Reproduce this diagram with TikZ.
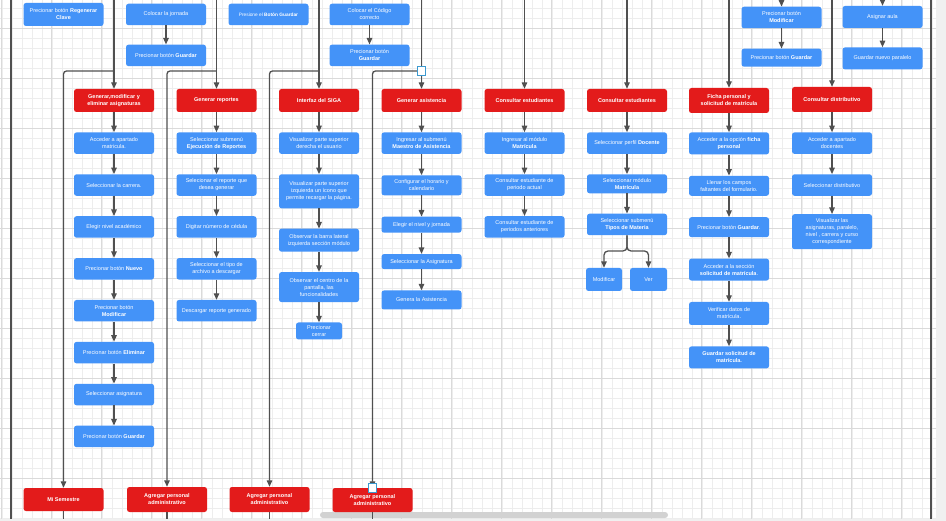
\documentclass[tikz,border=0pt]{standalone}
\usepackage{fontspec}
\setmainfont{Liberation Sans}
\usepackage{tikz}
\usetikzlibrary{arrows.meta, positioning}
\definecolor{actblue}{HTML}{4493F8}
\definecolor{casered}{HTML}{E31B1B}
\definecolor{linegray}{HTML}{505050}
\definecolor{gridminor}{HTML}{EDEDED}
\definecolor{gridmajor}{HTML}{DADADA}
\definecolor{handleblue}{HTML}{3C9AD0}
\tikzset{
  act/.style={rectangle, rounded corners=2.5pt, fill=actblue, text=white,
              minimum width=80pt, minimum height=21.5pt, inner xsep=2pt, inner ysep=1pt,
              align=center, font=\fontsize{5.5}{7}\selectfont},
  usecase/.style={rectangle, rounded corners=2.5pt, fill=casered, text=white,
              minimum width=80pt, minimum height=23pt, inner sep=1pt,
              align=center, font=\fontsize{5.5}{7}\selectfont\bfseries},
  arrow/.style={-{Triangle[length=6.5pt,width=5.5pt]}, line width=1.3pt, draw=linegray},
  link/.style={line width=1.3pt, draw=linegray},
  border/.style={line width=2pt, draw=linegray},
  handle/.style={rectangle, draw=handleblue, fill=white, line width=0.8pt,
                 minimum size=8.5pt, inner sep=0pt},
}

\begin{document}
\begin{tikzpicture}[x=1pt, y=-1pt, node distance=20pt]
  \useasboundingbox (0,0) rectangle (946,521);
  \fill[white] (0,0) rectangle (946,521);
  \foreach \i in {0,...,93} \draw[gridminor, line width=0.4pt] (\i*10+1.7,0) -- (\i*10+1.7,519);
  \foreach \i in {0,...,51} \draw[gridminor, line width=0.4pt] (0,\i*10+8.3) -- (936,\i*10+8.3);
  \foreach \i in {0,...,18} \draw[gridmajor, line width=0.5pt] (\i*50+1.7,0) -- (\i*50+1.7,519);
  \foreach \i in {0,...,9} \draw[gridmajor, line width=0.5pt] (0,\i*50+28.3) -- (936,\i*50+28.3);
  \fill[gray!12] (936,0) rectangle (946,521);
  \fill[gray!12] (0,519) rectangle (946,521);
  \draw[border] (11,0) -- (11,519);
  \draw[border] (931,0) -- (931,519);
  \fill[gray!35, rounded corners=3pt] (320,512) rectangle (668,518);

  \node[act, minimum height=23pt] (regen) at (63.5,14.5) {Precionar botón \textbf{Regenerar}\\\textbf{Clave}};
  \node[act] (jornada) at (166,14.5) {Colocar la jornada};
  \node[act, below=19pt of jornada] (guardarj) {Precionar  botón \textbf{Guardar}};
  \node[act, font=\fontsize{4.8}{6}\selectfont] (presione) at (268.5,14.5) {Presione el \textbf{Botón Guardar}};
  \node[act] (codigo) at (369.5,14.5) {Colocar  el Código\\correcto};
  \node[act, below=19pt of codigo] (guardarc) {Precionar botón\\\textbf{Guardar}};
  \node[act] (modif) at (781.5,17.5) {Precionar botón\\\textbf{Modificar}};
  \node[act, minimum height=18pt, below=20pt of modif] (guardarm) {Precionar botón \textbf{Guardar}};
  \node[act, minimum height=22pt] (aula) at (882.5,17) {Asignar aula};
  \node[act, minimum height=22pt, below=19pt of aula] (paralelo) {Guardar nuevo paralelo};

  \node[usecase] (asig) at (114,100.5) {Generar,modificar y\\eliminar asignaturas};
  \node[usecase] (repo) at (216.5,100.5) {Generar reportes};
  \node[usecase] (siga) at (319,100.5) {Interfaz del SIGA};
  \node[usecase] (asis) at (421.5,100.5) {Generar asistencia};
  \node[usecase] (estu) at (524.5,100.5) {Consultar  estudiantes};
  \node[usecase] (estd) at (627,100.5) {Consultar estudiantes};
  \node[usecase, minimum height=25pt] (ficha) at (729,100.5) {Ficha personal y\\solicitud de matrícula};
  \node[usecase, minimum height=25pt] (dist) at (832,99.5) {Consultar  distributivo};

  \node[act, below=of asig]  (acc)     {Acceder a apartado\\matricula.};
  \node[act, below=of acc]   (carrera) {Seleccionar  la carrera.};
  \node[act, below=of carrera] (nivel) {Elegir nivel académico};
  \node[act, below=of nivel] (nuevo)   {Precionar botón \textbf{Nuevo}};
  \node[act, below=of nuevo] (modi)    {Precionar botón\\\textbf{Modificar}};
  \node[act, below=of modi]  (elim)    {Precionar botón \textbf{Eliminar}};
  \node[act, below=of elim]  (selasig) {Seleccionar  asignatura};
  \node[act, below=of selasig] (guarda) {Precionar  botón \textbf{Guardar}};

  \node[act, below=of repo]  (ejec)    {Seleccionar submenú\\\textbf{Ejecución de Reportes}};
  \node[act, below=of ejec]  (report)  {Selecionar  el reporte que\\desea  generar};
  \node[act, below=of report] (cedula) {Digitar número de cédula};
  \node[act, below=of cedula] (tipoarc) {Seleccionar  el tipo de\\archivo a descargar};
  \node[act, below=of tipoarc] (descarga) {Descargar reporte generado};

  \node[act, below=of siga]  (usuario) {Visualizar parte superior\\derecha el usuario};
  \node[act, minimum height=34pt, below=of usuario] (icono) {Visualizar parte superior\\izquierda un ícono que\\permite recargar la página.};
  \node[act, minimum height=23pt, below=of icono] (barra) {Observar la barra lateral\\izquierda sección módulo};
  \node[act, minimum height=30pt, below=of barra] (centro) {Observar el centro de la\\pantalla, las\\funcionalidades};
  \node[act, minimum width=46pt, minimum height=17pt, below=of centro] (cerrar) {Precionar\\cerrar};

  \node[act, below=of asis]  (maestro) {Ingresar al submenú\\\textbf{Maestro de Asistencia}};
  \node[act, minimum height=20pt, below=21pt of maestro] (horario) {Configurar el horario y\\calendario};
  \node[act, minimum height=16pt, below=21pt of horario] (jornadaB) {Elegir el nivel y jornada};
  \node[act, minimum height=15pt, below=21pt of jornadaB] (asigB) {Seleccionar la Asignatura};
  \node[act, minimum height=19pt, below=21pt of asigB] (genera) {Genera la Asistencia};

  \node[act, below=of estu]  (matri)   {Ingresar al módulo\\\textbf{Matrícula}};
  \node[act, below=of matri] (actual)  {Consultar estudiante de\\periodo actual};
  \node[act, below=of actual] (anter)  {Consultar estudiante de\\periodos anteriores};

  \node[act, below=of estd]  (docente) {Seleccionar perfil \textbf{Docente}};
  \node[act, minimum height=19pt, below=of docente] (matriB) {Seleccionar módulo\\\textbf{Matrícula}};
  \node[act, below=of matriB] (tipos)  {Seleccionar submenú\\\textbf{Tipos de Materia}};
  \node[act, minimum width=36pt, minimum height=23pt] (modtipo) at (604,279.5) {Modificar};
  \node[act, minimum width=37pt, minimum height=23pt] (ver) at (648.5,279.5) {Ver};

  \node[act, minimum height=22pt, below=19pt of ficha] (opcion) {Acceder a la opción  \textbf{ficha}\\\textbf{personal}};
  \node[act, minimum height=20pt, below=21pt of opcion] (campos) {Llenar los campos\\faltantes del formulario.};
  \node[act, minimum height=20pt, below=21pt of campos] (guardaf) {Precionar botón \textbf{Guardar}.};
  \node[act, minimum height=22pt, below=21pt of guardaf] (seccion) {Acceder a la sección\\\textbf{solicitud de matrícula}.};
  \node[act, minimum height=23pt, below=21pt of seccion] (verif) {Verificar  datos de\\matrícula.};
  \node[act, minimum height=22pt, below=21pt of verif] (solic) {\textbf{Guardar solicitud de}\\\textbf{matrícula.}};

  \node[act, below=of dist]  (docs)    {Acceder a apartado\\docentes};
  \node[act, below=of docs]  (distsel) {Seleccionar distributivo};
  \node[act, minimum height=35pt, below=18pt of distsel] (visual) {Visualizar las\\asignaturas, paralelo,\\nivel , carrera y curso\\correspondiente};

  \node[usecase] (semestre) at (63.5,499.5) {Mi Semestre};
  \node[usecase, minimum height=25pt] (admA) at (167,499.5) {Agregar personal\\administrativo};
  \node[usecase, minimum height=25pt] (admB) at (269.5,499.5) {Agregar personal\\administrativo};
  \node[usecase, minimum height=24pt] (admC) at (372.5,500) {Agregar personal\\administrativo};

  \coordinate (inAsig)  at (114,0);
  \coordinate (inRepo)  at (216.5,0);
  \coordinate (inSiga)  at (319,0);
  \coordinate (inAsis)  at (421.5,0);
  \coordinate (inEstu)  at (524.5,0);
  \coordinate (inEstd)  at (627,0);
  \coordinate (inFicha) at (729,0);
  \coordinate (inDist)  at (832,0);
  \coordinate (inModif) at (781.5,0);
  \coordinate (inAula)  at (882.5,0);
  \coordinate (jA) at (114,71);
  \coordinate (jB) at (216.5,71);
  \coordinate (jC) at (319,71);
  \coordinate (jD) at (421.5,71);
  \coordinate (outA) at (63.5,519);
  \coordinate (outB) at (167,519);
  \coordinate (outC) at (269.5,519);
  \coordinate (outD) at (372.5,519);
  \coordinate (split) at (627,251);

  \draw[arrow] (jornada) -- (guardarj);
  \draw[arrow] (codigo) -- (guardarc);
  \draw[arrow] (inModif) -- (modif);
  \draw[arrow] (modif) -- (guardarm);
  \draw[arrow] (inAula) -- (aula);
  \draw[arrow] (aula) -- (paralelo);

  \draw[arrow] (inAsig) -- (asig);
  \draw[arrow] (inRepo) -- (repo);
  \draw[arrow] (inSiga) -- (siga);
  \draw[arrow] (inAsis) -- (asis);
  \draw[arrow] (inEstu) -- (estu);
  \draw[arrow] (inEstd) -- (estd);
  \draw[arrow] (inFicha) -- (ficha);
  \draw[arrow] (inDist) -- (dist);

  \draw[arrow, rounded corners=3pt] (jA) -| (semestre);
  \draw[arrow, rounded corners=3pt] (jB) -| (admA);
  \draw[arrow, rounded corners=3pt] (jC) -| (admB);
  \draw[arrow, rounded corners=3pt] (jD) -| (admC);
  \draw[link] (semestre) -- (outA);
  \draw[link] (admA) -- (outB);
  \draw[link] (admB) -- (outC);
  \draw[link] (admC) -- (outD);

  \draw[arrow] (asig) -- (acc);
  \draw[arrow] (acc) -- (carrera);
  \draw[arrow] (carrera) -- (nivel);
  \draw[arrow] (nivel) -- (nuevo);
  \draw[arrow] (nuevo) -- (modi);
  \draw[arrow] (modi) -- (elim);
  \draw[arrow] (elim) -- (selasig);
  \draw[arrow] (selasig) -- (guarda);

  \draw[arrow] (repo) -- (ejec);
  \draw[arrow] (ejec) -- (report);
  \draw[arrow] (report) -- (cedula);
  \draw[arrow] (cedula) -- (tipoarc);
  \draw[arrow] (tipoarc) -- (descarga);

  \draw[arrow] (siga) -- (usuario);
  \draw[arrow] (usuario) -- (icono);
  \draw[arrow] (icono) -- (barra);
  \draw[arrow] (barra) -- (centro);
  \draw[arrow] (centro) -- (cerrar);

  \draw[arrow] (asis) -- (maestro);
  \draw[arrow] (maestro) -- (horario);
  \draw[arrow] (horario) -- (jornadaB);
  \draw[arrow] (jornadaB) -- (asigB);
  \draw[arrow] (asigB) -- (genera);

  \draw[arrow] (estu) -- (matri);
  \draw[arrow] (matri) -- (actual);
  \draw[arrow] (actual) -- (anter);

  \draw[arrow] (estd) -- (docente);
  \draw[arrow] (docente) -- (matriB);
  \draw[arrow] (matriB) -- (tipos);
  \draw[arrow, rounded corners=4pt] (tipos) -- (split) -| (modtipo);
  \draw[arrow, rounded corners=4pt] (tipos) -- (split) -| (ver);

  \draw[arrow] (ficha) -- (opcion);
  \draw[arrow] (opcion) -- (campos);
  \draw[arrow] (campos) -- (guardaf);
  \draw[arrow] (guardaf) -- (seccion);
  \draw[arrow] (seccion) -- (verif);
  \draw[arrow] (verif) -- (solic);

  \draw[arrow] (dist) -- (docs);
  \draw[arrow] (docs) -- (distsel);
  \draw[arrow] (distsel) -- (visual);

  \node[handle] (hA) at (jD) {};
  \node[handle] (hB) at (372.5,488) {};
\end{tikzpicture}
\end{document}
